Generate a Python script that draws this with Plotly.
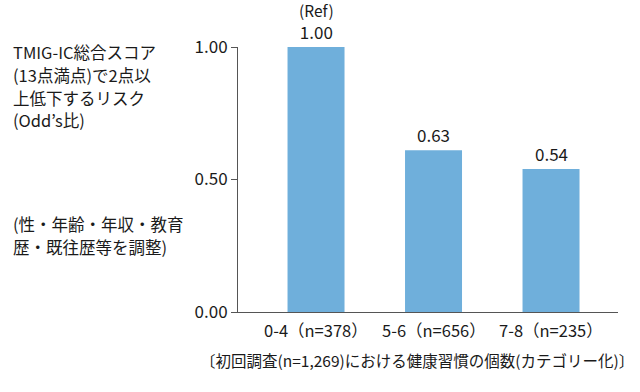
import plotly.graph_objects as go

categories = ["0-4（n=378）", "5-6（n=656）", "7-8（n=235）"]
odds = [1.00, 0.61, 0.54]
value_labels = ["1.00", "0.63", "0.54"]
ref_note = "(Ref)"
tick_vals = [0.0, 0.5, 1.0]
tick_text = ["0.00", "0.50", "1.00"]
left_lines = ["TMIG-IC総合スコア", "(13点満点)で2点以", "上低下するリスク", "(Odd’s比)"]
adj_lines = ["(性・年齢・年収・教育", "歴・既往歴等を調整)"]
x_title = "〔初回調査(n=1,269)における健康習慣の個数(カテゴリー化)〕"

FONT = "Noto Sans CJK JP, Noto Sans, sans-serif"
W, H = 640, 392
L, T = 238, 47
R = W - 618
B = H - 312
pw, ph = W - L - R, H - T - B
TXT = "#1a1a1a"

def px(xpix):
    return (xpix - L) / pw

def py(ypix):
    return (H - B - ypix) / ph

xs = list(range(len(categories)))
fig = go.Figure()
fig.add_trace(go.Bar(x=xs, y=odds, width=0.485, marker=dict(color="#6FAFDB", line=dict(width=0)),
                     hoverinfo="skip"))

ann = []
for i, v in enumerate(odds):
    label = value_labels[i]
    if i == 0:
        label = "<span style='font-size:15.5px'>" + ref_note + "</span><br>" + label
    ann.append(dict(x=xs[i], y=v, xref="x", yref="y", text=label, showarrow=False,
                    yanchor="bottom", yshift=1, font=dict(size=17, color=TXT)))
for i, c in enumerate(categories):
    ann.append(dict(x=xs[i], y=0, xref="x", yref="y", text=c, showarrow=False,
                    yanchor="top", yshift=-4, font=dict(size=16.5, color=TXT)))

for line, yc in zip(left_lines, [52, 75, 98, 120]):
    ann.append(dict(x=px(11), y=py(yc), xref="paper", yref="paper", xanchor="left", yanchor="middle",
                    text=line, showarrow=False, font=dict(size=16.5, color=TXT)))
for line, yc in zip(adj_lines, [224, 247]):
    ann.append(dict(x=px(11), y=py(yc), xref="paper", yref="paper", xanchor="left", yanchor="middle",
                    text=line, showarrow=False, font=dict(size=16.5, color=TXT)))
ann.append(dict(x=px(417), y=py(360), xref="paper", yref="paper", xanchor="center", yanchor="middle",
                text=x_title, showarrow=False, font=dict(size=15.5, color=TXT)))

fig.update_layout(
    width=W, height=H, margin=dict(l=L, r=R, t=T, b=B, autoexpand=False),
    paper_bgcolor="white", plot_bgcolor="white", showlegend=False,
    font=dict(family=FONT, size=16, color=TXT),
    annotations=ann,
    xaxis=dict(range=[-0.664, 2.57], showticklabels=False, ticks="", showgrid=False,
               showline=True, linecolor="#555", linewidth=1, zeroline=False, fixedrange=True),
    yaxis=dict(range=[0, 1], tickvals=tick_vals, ticktext=tick_text, ticks="outside", ticklen=6,
               tickcolor="#555", showgrid=False, showline=True, linecolor="#555", linewidth=1,
               zeroline=False, tickfont=dict(size=17, color=TXT), fixedrange=True),
)
fig.write_html("out.html", config={"displayModeBar": False},
               post_script="document.body.style.margin='0';document.body.style.overflow='hidden';")
